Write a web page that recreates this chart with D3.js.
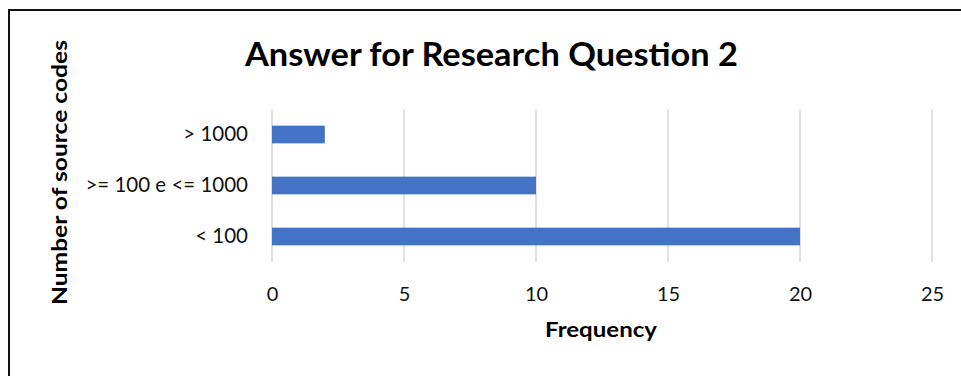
<!DOCTYPE html>
<html>
<head>
<meta charset="utf-8">
<script src="https://cdn.jsdelivr.net/npm/d3@7"></script>
<style>
  html, body { margin: 0; padding: 0; background: #fff; }
  svg { display: block; }
  text { font-family: Lato, "Open Sans", sans-serif; }
</style>
</head>
<body>
<script>
// Categories (top to bottom) and their frequencies
const categories = ["> 1000", ">= 100 e <= 1000", "< 100"];
const frequencies = [2, 10, 20];
const xTicks = [0, 5, 10, 15, 20, 25];

const titleText = "Answer for Research Question 2";
const xTitle = "Frequency";
const yTitle = "Number of source codes";

const W = 961, H = 376;
const plot = { left: 272, right: 932, top: 109, bottom: 262 };

const svg = d3.select("body").append("svg")
  .attr("width", W).attr("height", H);

svg.append("rect").attr("width", W).attr("height", H).attr("fill", "#fff");

// frame (top and left edges)
svg.append("path")
  .attr("d", `M9,${H} V10 H${W}`)
  .attr("fill", "none")
  .attr("stroke", "#111")
  .attr("stroke-width", 2);

const x = d3.scaleLinear().domain([0, 25]).range([plot.left, plot.right]);
const y = d3.scaleBand().domain(categories)
  .range([plot.top, plot.bottom])
  .paddingInner(0.653).paddingOuter(0.3265);

// vertical gridlines
svg.append("g").selectAll("line").data(xTicks).join("line")
  .attr("x1", d => x(d)).attr("x2", d => x(d))
  .attr("y1", plot.top).attr("y2", plot.bottom)
  .attr("stroke", "#d9d9d9").attr("stroke-width", 1.5);

// bars
svg.append("g").selectAll("rect").data(categories).join("rect")
  .attr("x", x(0))
  .attr("y", d => y(d))
  .attr("width", (d, i) => x(frequencies[i]) - x(0))
  .attr("height", y.bandwidth())
  .attr("fill", "#4472c4");

// x tick labels
const xAxis = d3.axisBottom(x).tickValues(xTicks).tickSize(0).tickPadding(0);
const gx = svg.append("g").attr("transform", `translate(0,${plot.bottom + 25})`).call(xAxis);
gx.select(".domain").remove();
gx.selectAll("text")
  .attr("font-family", "Lato, sans-serif")
  .attr("font-size", 20).attr("fill", "#111");

// category labels
const yAxis = d3.axisLeft(y).tickSize(0).tickPadding(0);
const gy = svg.append("g").attr("transform", `translate(${plot.left - 24},0)`).call(yAxis);
gy.select(".domain").remove();
gy.selectAll("text")
  .attr("font-family", "Lato, sans-serif")
  .attr("font-size", 20.5).attr("fill", "#111");

// chart title
svg.append("text")
  .attr("x", 491.5).attr("y", 66)
  .attr("text-anchor", "middle")
  .attr("font-size", 32).attr("font-weight", "bold").attr("fill", "#000")
  .attr("textLength", 493).attr("lengthAdjust", "spacingAndGlyphs")
  .text(titleText);

// axis titles
svg.append("text")
  .attr("x", 601).attr("y", 337)
  .attr("text-anchor", "middle")
  .attr("font-size", 20.5).attr("font-weight", "bold").attr("fill", "#000")
  .attr("textLength", 112).attr("lengthAdjust", "spacingAndGlyphs")
  .text(xTitle);

svg.append("text")
  .attr("transform", "translate(67,172.5) rotate(-90)")
  .attr("text-anchor", "middle")
  .attr("font-size", 21).attr("font-weight", "bold").attr("fill", "#000")
  .attr("textLength", 265).attr("lengthAdjust", "spacingAndGlyphs")
  .text(yTitle);
</script>
</body>
</html>
